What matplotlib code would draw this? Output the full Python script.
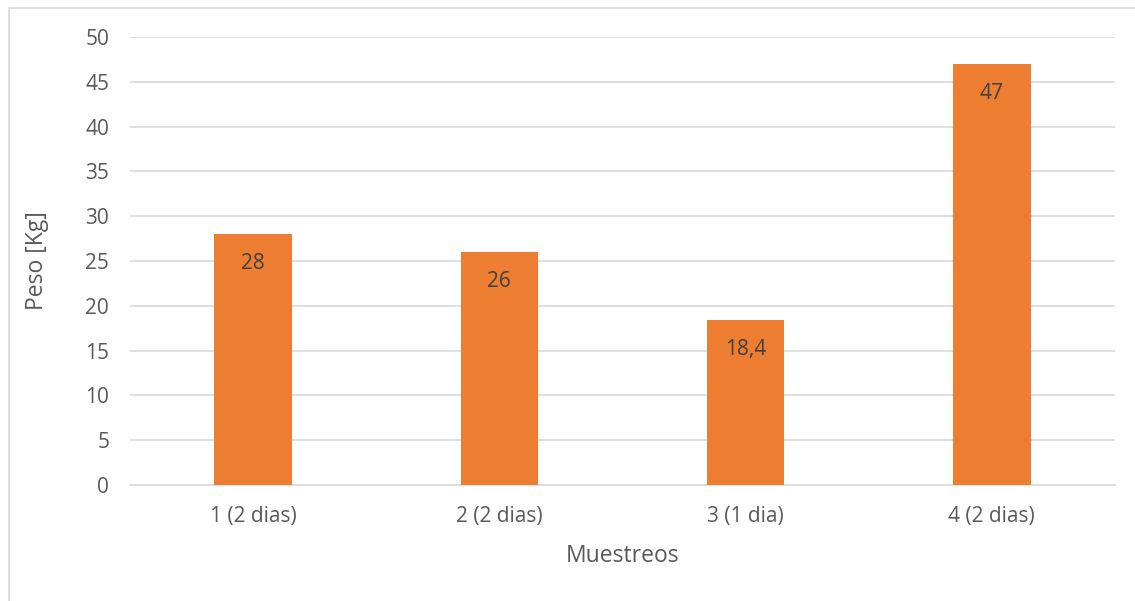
import matplotlib.pyplot as plt
from matplotlib.patches import Rectangle

# Muestreos de peso
muestreos = ['1 (2 dias)', '2 (2 dias)', '3 (1 dia)', '4 (2 dias)']
peso_kg = [28, 26, 18.4, 47]
etiquetas = ['28', '26', '18,4', '47']

plt.rcParams['font.family'] = ['Open Sans', 'DejaVu Sans']

W, H = 1135, 601
fig = plt.figure(figsize=(W / 100, H / 100), dpi=100)
ax = fig.add_axes([130 / W, 1 - 485 / H, 985 / W, 448 / H])

# Marco gris del grafico
fig.patches.append(Rectangle((8.5 / W, -0.1), 1.2, 1.1 - 7.5 / H,
                             transform=fig.transFigure, fill=False,
                             edgecolor='#d9d9d9', linewidth=1.2))

x = range(len(muestreos))
bars = ax.bar(x, peso_kg, width=0.315, color='#ED7D31', zorder=3)

for b, txt in zip(bars, etiquetas):
    ax.annotate(txt, (b.get_x() + b.get_width() / 2, b.get_height()),
                xytext=(0, -21.5), textcoords='offset points',
                ha='center', va='center', fontsize=15, color='#404040', zorder=4)

ax.set_xlim(-0.5, len(muestreos) - 0.5)
ax.set_ylim(0, 50)
ax.set_yticks(range(0, 51, 5))
ax.set_xticks(list(x))
ax.set_xticklabels(muestreos)
ax.yaxis.grid(True, color='#d9d9d9', linewidth=1.2, zorder=0)
ax.tick_params(axis='both', length=0, labelsize=15, labelcolor='#595959')
ax.tick_params(axis='y', pad=15)
ax.tick_params(axis='x', pad=15)

for s in ['top', 'right', 'left']:
    ax.spines[s].set_visible(False)
ax.spines['bottom'].set_color('#d9d9d9')
ax.spines['bottom'].set_linewidth(1.2)

ax.set_xlabel('Muestreos', fontsize=16.5, color='#595959', labelpad=12)
ax.set_ylabel('Peso [Kg]', fontsize=16.5, color='#595959', labelpad=26)

fig.savefig('out.png', dpi=100)
